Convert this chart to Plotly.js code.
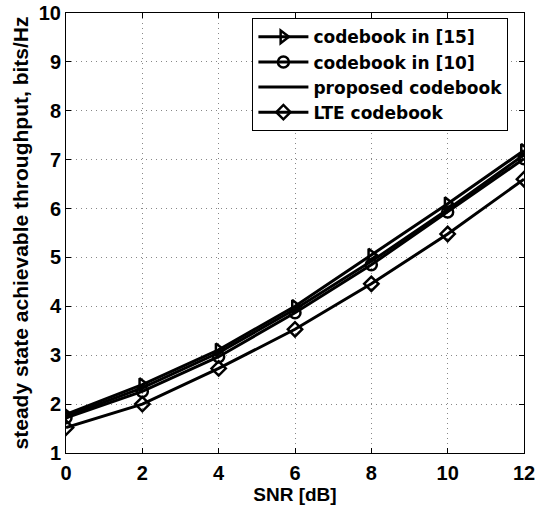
<!DOCTYPE html>
<html><head><meta charset="utf-8">
<script src="https://cdn.plot.ly/plotly-3.0.1.min.js"></script>
<style>html,body{margin:0;padding:0;background:#fff}#c{width:545px;height:508px}</style>
</head><body><div id="c"></div>
<script>
const snr = [0, 2, 4, 6, 8, 10, 12];
const cb15 = [1.79, 2.40, 3.11, 4.00, 5.05, 6.10, 7.19];
const cb10 = [1.72, 2.26, 2.97, 3.87, 4.85, 5.93, 7.02];
const proposed = [1.75, 2.33, 3.05, 3.94, 4.92, 5.98, 7.10];
const lte = [1.52, 2.00, 2.73, 3.53, 4.46, 5.48, 6.60];
const names = ["codebook in [15]", "codebook in [10]", "proposed codebook", "LTE codebook"];
const xTicks = [0, 2, 4, 6, 8, 10, 12];
const yTicks = [1, 2, 3, 4, 5, 6, 7, 8, 9, 10];

const font = {family: "Liberation Sans, Arial, sans-serif", color: "#000", weight: "bold"};
function tr(y, name, sym) {
  const t = {x: snr, y: y, name: name, type: "scatter",
    mode: sym ? "lines+markers" : "lines",
    line: {color: "#000", width: 3}};
  if (sym) t.marker = {symbol: sym, size: 11, color: "#000", line: {color: "#000", width: 2.5}};
  return t;
}
const data = [
  tr(cb15, names[0], "triangle-right-open"),
  tr(cb10, names[1], "circle-open"),
  tr(proposed, names[2], null),
  tr(lte, names[3], "diamond-open")
];
const ax = {
  showline: true, linecolor: "#000", linewidth: 1, mirror: "ticks",
  ticks: "inside", ticklen: 5, tickcolor: "#000",
  showgrid: true, gridcolor: "#888", griddash: "1px,4px", gridwidth: 1,
  zeroline: false, tickfont: Object.assign({}, font, {size: 20})
};
const layout = {
  width: 545, height: 508,
  margin: {l: 66, r: 21, t: 13, b: 55},
  paper_bgcolor: "#fff", plot_bgcolor: "#fff",
  font: font,
  showlegend: true,
  xaxis: Object.assign({}, ax, {range: [0, 12], tickvals: xTicks, ticktext: xTicks.map(String), ticklabelstandoff: 2,
    title: {text: "SNR [dB]", font: Object.assign({}, font, {size: 19}), standoff: 2}}),
  yaxis: Object.assign({}, ax, {range: [1, 10], tickvals: yTicks, ticktext: yTicks.map(String),
    title: {text: "steady state achievable throughput, bits/Hz", font: Object.assign({}, font, {size: 21}), standoff: 4}}),
  legend: {x: 0.407, y: 0.988, xanchor: "left", yanchor: "top",
    bgcolor: "#fff", bordercolor: "#000", borderwidth: 1,
    font: {family: "DejaVu Sans, sans-serif", color: "#000", weight: "bold", size: 17},
    tracegroupgap: 0, itemwidth: 50}
};
Plotly.newPlot("c", data, layout, {displayModeBar: false, staticPlot: true});
</script></body></html>
